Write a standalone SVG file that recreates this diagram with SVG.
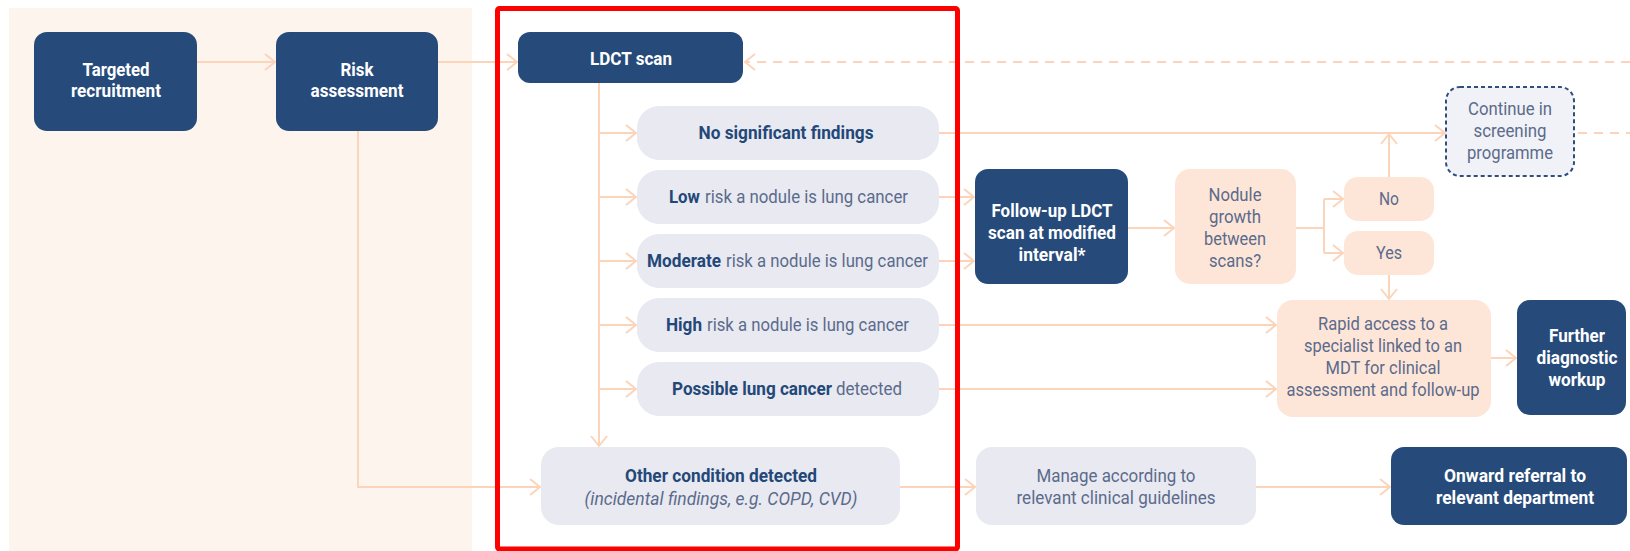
<svg xmlns="http://www.w3.org/2000/svg" width="1630" height="551" viewBox="0 0 1630 551">
<defs>
<style>
.bg{fill:#fdf4ee}
.navy{fill:#264b7b}
.light{fill:#e8e9f1}
.peach{fill:#fde6d8}
.dash{fill:#f1f2f7;stroke:#2e4f7c;stroke-width:2;stroke-dasharray:4 3}
text{font-family:Roboto,"Liberation Sans",sans-serif;font-size:19px;text-anchor:middle}
text.s{text-anchor:start}
.wt{fill:#ffffff;font-weight:700}
.bt{fill:#234878;font-weight:700}
.rt{fill:#5b6b8b;font-weight:400}
.it{fill:#5b6b8b;font-weight:400;font-style:italic}
.c{fill:none;stroke:#fcd4ba;stroke-width:2}
.cd{fill:none;stroke:#fcd4ba;stroke-width:2;stroke-dasharray:9 7}
.frame{fill:none;stroke:#ff0000;stroke-width:5}
</style>
<marker id="arr" viewBox="-12 -10 14 20" refX="0" refY="0" markerWidth="14" markerHeight="20" markerUnits="userSpaceOnUse" orient="auto">
<path d="M-10,-8 L0,0 L-10,8" fill="none" stroke="#fcd4ba" stroke-width="2"/>
</marker>
</defs>
<rect class="bg" x="9" y="8" width="463" height="543"/>
<g id="connectors">
<line class="c" x1="197" y1="62" x2="275" y2="62" marker-end="url(#arr)"/>
<line class="c" x1="438" y1="62" x2="517" y2="62" marker-end="url(#arr)"/>
<line class="cd" x1="1630" y1="62" x2="745" y2="62" marker-end="url(#arr)"/>
<line class="c" x1="599" y1="83" x2="599" y2="446" marker-end="url(#arr)"/>
<line class="c" x1="599" y1="133" x2="636" y2="133" marker-end="url(#arr)"/>
<line class="c" x1="599" y1="197" x2="636" y2="197" marker-end="url(#arr)"/>
<line class="c" x1="599" y1="261" x2="636" y2="261" marker-end="url(#arr)"/>
<line class="c" x1="599" y1="325" x2="636" y2="325" marker-end="url(#arr)"/>
<line class="c" x1="599" y1="389" x2="636" y2="389" marker-end="url(#arr)"/>
<line class="c" x1="939" y1="133" x2="1445" y2="133" marker-end="url(#arr)"/>
<line class="cd" x1="1578" y1="133" x2="1630" y2="133"/>
<line class="c" x1="939" y1="197" x2="974" y2="197" marker-end="url(#arr)"/>
<line class="c" x1="939" y1="261" x2="974" y2="261" marker-end="url(#arr)"/>
<line class="c" x1="1128" y1="228" x2="1174" y2="228" marker-end="url(#arr)"/>
<path class="c" d="M1296,228 H1324 M1324,199 V253"/>
<line class="c" x1="1324" y1="199" x2="1343" y2="199" marker-end="url(#arr)"/>
<line class="c" x1="1324" y1="253" x2="1343" y2="253" marker-end="url(#arr)"/>
<line class="c" x1="1389" y1="177" x2="1389" y2="134" marker-end="url(#arr)"/>
<line class="c" x1="1389" y1="275" x2="1389" y2="299" marker-end="url(#arr)"/>
<line class="c" x1="939" y1="325" x2="1276" y2="325" marker-end="url(#arr)"/>
<line class="c" x1="939" y1="389" x2="1276" y2="389" marker-end="url(#arr)"/>
<line class="c" x1="1491" y1="358" x2="1516" y2="358" marker-end="url(#arr)"/>
<path class="c" d="M358,131 V487 H540" marker-end="url(#arr)"/>
<line class="c" x1="900" y1="487" x2="975" y2="487" marker-end="url(#arr)"/>
<line class="c" x1="1256" y1="487" x2="1390" y2="487" marker-end="url(#arr)"/>
</g>
<g id="targeted-recruitment">
<rect class="navy" x="34" y="32" width="163" height="99" rx="13"/>
<text class="wt" x="116" y="76" textLength="67" lengthAdjust="spacingAndGlyphs">Targeted</text>
<text class="wt" x="116" y="97" textLength="90" lengthAdjust="spacingAndGlyphs">recruitment</text>
</g>
<g id="risk-assessment">
<rect class="navy" x="276" y="32" width="162" height="99" rx="13"/>
<text class="wt" x="357" y="76" textLength="33" lengthAdjust="spacingAndGlyphs">Risk</text>
<text class="wt" x="357" y="97" textLength="93" lengthAdjust="spacingAndGlyphs">assessment</text>
</g>
<g id="ldct-scan">
<rect class="navy" x="518" y="32" width="225" height="51" rx="12"/>
<text class="wt" x="631" y="65" textLength="82" lengthAdjust="spacingAndGlyphs">LDCT scan</text>
</g>
<g id="no-significant">
<rect class="light" x="637" y="106" width="302" height="54" rx="22"/>
<text class="bt" x="786" y="139" textLength="175" lengthAdjust="spacingAndGlyphs">No significant findings</text>
</g>
<g id="low-risk">
<rect class="light" x="637" y="170" width="302" height="54" rx="22"/>
<text class="s bt" x="669" y="203" textLength="31" lengthAdjust="spacingAndGlyphs">Low</text>
<text class="s rt" x="705" y="203" textLength="203" lengthAdjust="spacingAndGlyphs">risk a nodule is lung cancer</text>
</g>
<g id="moderate-risk">
<rect class="light" x="637" y="234" width="302" height="54" rx="22"/>
<text class="s bt" x="647" y="267" textLength="74" lengthAdjust="spacingAndGlyphs">Moderate</text>
<text class="s rt" x="726" y="267" textLength="202" lengthAdjust="spacingAndGlyphs">risk a nodule is lung cancer</text>
</g>
<g id="high-risk">
<rect class="light" x="637" y="298" width="302" height="54" rx="22"/>
<text class="s bt" x="666" y="331" textLength="36" lengthAdjust="spacingAndGlyphs">High</text>
<text class="s rt" x="707" y="331" textLength="202" lengthAdjust="spacingAndGlyphs">risk a nodule is lung cancer</text>
</g>
<g id="possible-cancer">
<rect class="light" x="637" y="362" width="302" height="54" rx="22"/>
<text class="s bt" x="672" y="395" textLength="160" lengthAdjust="spacingAndGlyphs">Possible lung cancer</text>
<text class="s rt" x="836" y="395" textLength="66" lengthAdjust="spacingAndGlyphs">detected</text>
</g>
<g id="other-condition">
<rect class="light" x="541" y="447" width="359" height="78" rx="18"/>
<text class="bt" x="721" y="482" textLength="192" lengthAdjust="spacingAndGlyphs">Other condition detected</text>
<text class="it" x="721" y="505" textLength="273" lengthAdjust="spacingAndGlyphs">(incidental findings, e.g. COPD, CVD)</text>
</g>
<g id="follow-up">
<rect class="navy" x="975" y="169" width="153" height="115" rx="13"/>
<text class="wt" x="1052" y="217" textLength="121" lengthAdjust="spacingAndGlyphs">Follow-up LDCT</text>
<text class="wt" x="1052" y="239" textLength="128" lengthAdjust="spacingAndGlyphs">scan at modified</text>
<text class="wt" x="1052" y="261" textLength="67" lengthAdjust="spacingAndGlyphs">interval*</text>
</g>
<g id="nodule-growth">
<rect class="peach" x="1175" y="169" width="121" height="115" rx="15"/>
<text class="rt" x="1235" y="201" textLength="53" lengthAdjust="spacingAndGlyphs">Nodule</text>
<text class="rt" x="1235" y="223" textLength="52" lengthAdjust="spacingAndGlyphs">growth</text>
<text class="rt" x="1235" y="245" textLength="62" lengthAdjust="spacingAndGlyphs">between</text>
<text class="rt" x="1235" y="267" textLength="52" lengthAdjust="spacingAndGlyphs">scans?</text>
</g>
<g id="no">
<rect class="peach" x="1344" y="177" width="90" height="44" rx="14"/>
<text class="rt" x="1389" y="205" textLength="20" lengthAdjust="spacingAndGlyphs">No</text>
</g>
<g id="yes">
<rect class="peach" x="1344" y="231" width="90" height="44" rx="14"/>
<text class="rt" x="1389" y="259" textLength="26" lengthAdjust="spacingAndGlyphs">Yes</text>
</g>
<g id="continue-screening">
<rect class="dash" x="1446" y="87" width="128" height="89" rx="14"/>
<text class="rt" x="1510" y="115" textLength="84" lengthAdjust="spacingAndGlyphs">Continue in</text>
<text class="rt" x="1510" y="137" textLength="73" lengthAdjust="spacingAndGlyphs">screening</text>
<text class="rt" x="1510" y="159" textLength="86" lengthAdjust="spacingAndGlyphs">programme</text>
</g>
<g id="rapid-access">
<rect class="peach" x="1277" y="300" width="214" height="117" rx="16"/>
<text class="rt" x="1383" y="330" textLength="130" lengthAdjust="spacingAndGlyphs">Rapid access to a</text>
<text class="rt" x="1383" y="352" textLength="158" lengthAdjust="spacingAndGlyphs">specialist linked to an</text>
<text class="rt" x="1383" y="374" textLength="115" lengthAdjust="spacingAndGlyphs">MDT for clinical</text>
<text class="rt" x="1383" y="396" textLength="193" lengthAdjust="spacingAndGlyphs">assessment and follow-up</text>
</g>
<g id="further-workup">
<rect class="navy" x="1517" y="300" width="109" height="115" rx="13"/>
<text class="wt" x="1577" y="342" textLength="56" lengthAdjust="spacingAndGlyphs">Further</text>
<text class="wt" x="1577" y="364" textLength="81" lengthAdjust="spacingAndGlyphs">diagnostic</text>
<text class="wt" x="1577" y="386" textLength="57" lengthAdjust="spacingAndGlyphs">workup</text>
</g>
<g id="manage">
<rect class="light" x="976" y="447" width="280" height="78" rx="16"/>
<text class="rt" x="1116" y="482" textLength="159" lengthAdjust="spacingAndGlyphs">Manage according to</text>
<text class="rt" x="1116" y="504" textLength="199" lengthAdjust="spacingAndGlyphs">relevant clinical guidelines</text>
</g>
<g id="onward-referral">
<rect class="navy" x="1391" y="447" width="236" height="78" rx="13"/>
<text class="wt" x="1515" y="482" textLength="142" lengthAdjust="spacingAndGlyphs">Onward referral to</text>
<text class="wt" x="1515" y="504" textLength="158" lengthAdjust="spacingAndGlyphs">relevant department</text>
</g>
<rect class="frame" x="497.5" y="8.5" width="460" height="540.5" rx="2"/>
</svg>
